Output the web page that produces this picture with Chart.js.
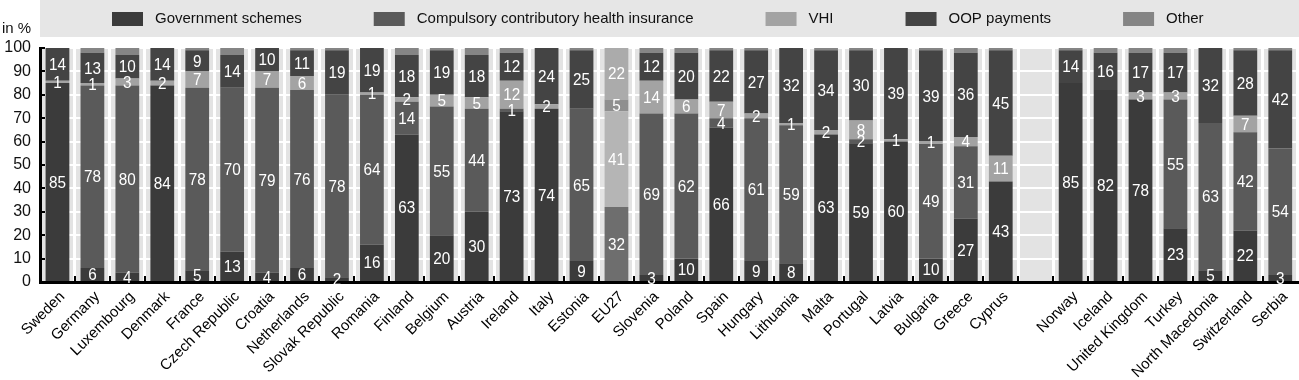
<!DOCTYPE html>
<html>
<head>
<meta charset="utf-8">
<script src="https://cdn.jsdelivr.net/npm/chart.js@4.4.0/dist/chart.umd.min.js"></script>
<style>
  html, body { margin: 0; padding: 0; background: #fff; }
</style>
</head>
<body>
<canvas id="financing-chart" width="1299" height="380"></canvas>
<script>
// categories (empty slot separates EU countries from the others)
const countries = ['Sweden', 'Germany', 'Luxembourg', 'Denmark', 'France', 'Czech Republic', 'Croatia',
  'Netherlands', 'Slovak Republic', 'Romania', 'Finland', 'Belgium', 'Austria', 'Ireland', 'Italy',
  'Estonia', 'EU27', 'Slovenia', 'Poland', 'Spain', 'Hungary', 'Lithuania', 'Malta', 'Portugal',
  'Latvia', 'Bulgaria', 'Greece', 'Cyprus', '', 'Norway', 'Iceland', 'United Kingdom', 'Turkey',
  'North Macedonia', 'Switzerland', 'Serbia'];

// share of health expenditure, in %
const govSchemes = [85, 6, 4, 84, 5, 13, 4, 6, 2, 16, 63, 20, 30, 73, 74, 9, 32, 3, 10, 66, 9, 8, 63, 59, 60, 10, 27, 43, null, 85, 82, 78, 23, 5, 22, 3];
const compulsory = [0, 78, 80, 0, 78, 70, 79, 76, 78, 64, 14, 55, 44, 1, 0, 65, 41, 69, 62, 4, 61, 59, 0, 2, 0, 49, 31, 0, null, 0, 0, 0, 55, 63, 42, 54];
const vhi = [1, 1, 3, 2, 7, 0, 7, 6, 0, 1, 2, 5, 5, 12, 2, 0, 5, 14, 6, 7, 2, 1, 2, 8, 1, 1, 4, 11, null, 0, 0, 3, 3, 0, 7, 0];
const oopPayments = [14, 13, 10, 14, 9, 14, 10, 11, 19, 19, 18, 19, 18, 12, 24, 25, 22, 12, 20, 22, 27, 32, 34, 30, 39, 39, 36, 45, null, 14, 16, 17, 17, 32, 28, 42];
const other = [0, 2, 3, 0, 1, 3, 0, 1, 1, 0, 3, 1, 3, 2, 0, 1, 0, 2, 2, 1, 1, 0, 1, 1, 0, 1, 2, 1, null, 1, 2, 2, 2, 0, 1, 1];

const seriesNames = ['Government schemes', 'Compulsory contributory health insurance', 'VHI', 'OOP payments', 'Other'];
const seriesColors = ['#3b3b3b', '#5a5a5a', '#a3a3a3', '#444444', '#858585'];
// EU27 bar is shown in lighter shades
const euColors = ['#6e6e6e', '#b5b5b5', '#8f8f8f', '#ababab', '#c0c0c0'];

const FONT = "'Liberation Sans', Arial, sans-serif";

function colorsFor(k) {
  return countries.map(function (c) { return c === 'EU27' ? euColors[k] : seriesColors[k]; });
}

const allSeries = [govSchemes, compulsory, vhi, oopPayments, other];

// grey plot background + legend box + "in %" note
const backdrop = {
  id: 'backdrop',
  beforeDraw: function (chart) {
    const ctx = chart.ctx;
    const a = chart.chartArea;
    ctx.save();
    ctx.fillStyle = '#e3e3e3';
    ctx.fillRect(a.left, a.top, a.right - a.left, a.bottom - a.top);

    // legend
    ctx.fillStyle = '#e6e6e6';
    ctx.fillRect(40, 0, chart.width - 40, 37);
    ctx.font = '15px ' + FONT;
    ctx.textBaseline = 'middle';
    ctx.textAlign = 'left';
    let x = 112;
    seriesNames.forEach(function (name, k) {
      ctx.fillStyle = seriesColors[k];
      ctx.fillRect(x, 12, 31, 14);
      ctx.fillStyle = '#111';
      ctx.fillText(name, x + 43, 19);
      x += 43 + ctx.measureText(name).width + 72;
    });

    ctx.font = '15px ' + FONT;
    ctx.fillStyle = '#111';
    ctx.fillText('in %', 2, 29);
    ctx.restore();
  }
};

// inward tick marks on both axes
const axisTicks = {
  id: 'axisTicks',
  afterDraw: function (chart) {
    const ctx = chart.ctx;
    const xs = chart.scales.x;
    const ys = chart.scales.y;
    const a = chart.chartArea;
    const slot = (a.right - a.left) / countries.length;
    ctx.save();
    ctx.strokeStyle = '#000';
    ctx.lineWidth = 2;
    ctx.beginPath();
    for (let i = 1; i < countries.length; i++) {
      const px = Math.round(xs.getPixelForValue(i) - slot / 2);
      ctx.moveTo(px, a.bottom);
      ctx.lineTo(px, a.bottom - 6);
    }
    ys.ticks.forEach(function (t) {
      const py = Math.round(ys.getPixelForValue(t.value));
      ctx.moveTo(a.left, py);
      ctx.lineTo(a.left + 5, py);
    });
    ctx.stroke();
    ctx.restore();
  }
};

// white value labels in the segments (not for "Other")
const valueLabels = {
  id: 'valueLabels',
  afterDatasetsDraw: function (chart) {
    const ctx = chart.ctx;
    ctx.save();
    ctx.font = '17px ' + FONT;
    ctx.fillStyle = '#fff';
    ctx.textAlign = 'center';
    ctx.textBaseline = 'middle';
    for (let k = 0; k < 4; k++) {
      const meta = chart.getDatasetMeta(k);
      meta.data.forEach(function (bar, i) {
        const v = allSeries[k][i];
        if (!v) return;
        ctx.save();
        ctx.translate(bar.x, (bar.y + bar.base) / 2 + 1);
        ctx.scale(0.9, 1);
        ctx.fillText(String(v), 0, 0);
        ctx.restore();
      });
    }
    ctx.restore();
  }
};

const ctx = document.getElementById('financing-chart').getContext('2d');
const chart = new Chart(ctx, {
  type: 'bar',
  data: {
    labels: countries,
    datasets: allSeries.map(function (vals, k) {
      return {
        label: seriesNames[k],
        data: vals,
        backgroundColor: colorsFor(k),
        borderWidth: 0,
        barPercentage: 0.68,
        categoryPercentage: 1
      };
    })
  },
  options: {
    responsive: false,
    animation: false,
    devicePixelRatio: 1,
    layout: { padding: { top: 48, right: 1, left: 0, bottom: 0 } },
    plugins: {
      legend: { display: false },
      tooltip: { enabled: false }
    },
    scales: {
      x: {
        stacked: true,
        grid: { color: '#fff', lineWidth: 3, offset: true, drawTicks: false },
        border: { display: true, color: '#000', width: 3 },
        ticks: {
          autoSkip: false,
          minRotation: 45,
          maxRotation: 45,
          padding: 6,
          labelOffset: 5,
          color: '#000',
          font: { family: FONT, size: 15 }
        },
        afterFit: function (s) { s.height = 98; }
      },
      y: {
        stacked: true,
        min: 0,
        max: 100,
        grid: { color: '#fff', lineWidth: 2, drawTicks: false },
        border: { display: true, color: '#000', width: 3 },
        ticks: {
          stepSize: 10,
          padding: 9,
          color: '#111',
          font: { family: FONT, size: 16 }
        },
        afterFit: function (s) { s.width = 40; }
      }
    }
  },
  plugins: [backdrop, axisTicks, valueLabels]
});
</script>
</body>
</html>
